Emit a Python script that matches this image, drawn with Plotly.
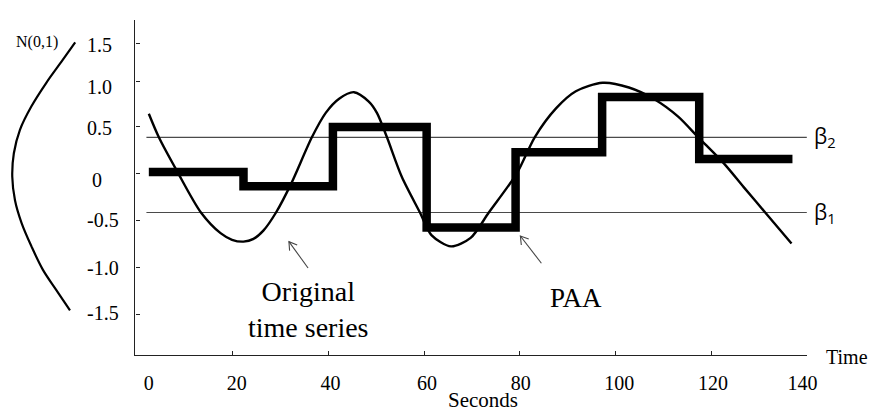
import math
import plotly.graph_objects as go

# ---------------- data ----------------
ts_time = [2.4, 4.5, 8.3, 13.3, 17.4, 19.8, 22.2, 24.3, 26.4, 29.0, 32.2, 36.5, 39.4, 42.2, 45.3,
           48.4, 50.1, 52.2, 55.3, 59.1, 61.5, 65.6, 69.7, 73.5, 79.4, 83.1, 87.6, 91.7, 97.3,
           102.8, 108.3, 113.1, 117.3, 122.7, 126.8, 131.3, 136.8]
ts_value = [0.64, 0.39, 0.03, -0.41, -0.63, -0.70, -0.72, -0.69, -0.60, -0.41, -0.10, 0.39, 0.65,
            0.80, 0.87, 0.77, 0.65, 0.39, -0.03, -0.41, -0.65, -0.77, -0.68, -0.41, 0.01, 0.39,
            0.70, 0.88, 0.97, 0.92, 0.79, 0.61, 0.39, 0.11, -0.14, -0.41, -0.74]

paa_edges = [2.4, 22.2, 40.9, 60.5, 79.1, 97.2, 117.5, 137.0]
paa_means = [0.02, -0.13, 0.50, -0.57, 0.23, 0.82, 0.16]

beta_values = [-0.41, 0.39]
beta_names = ["β<sub>1</sub>", "β<sub>2</sub>"]
beta_extent = [1.9, 140.8]

gauss_value = [1.40, 1.21, 0.97, 0.72, 0.47, 0.22, -0.03, -0.28, -0.52, -0.77, -1.02, -1.23, -1.45]
gauss_density = [0.117, 0.173, 0.245, 0.311, 0.362, 0.389, 0.396, 0.384, 0.355, 0.311, 0.260, 0.202, 0.140]

# pointer arrows: (head time, head value), (tail time, tail value)
arrow_heads = [(31.7, -0.72), (80.1, -0.66)]
arrow_tails = [(35.7, -1.00), (84.5, -0.95)]

x_tick_labels = ["0", "20", "40", "60", "80", "100", "120", "140"]
x_tick_marks = [20, 40, 60, 80, 100, 120, 140]
y_tick_labels = ["-1.5", "-1.0", "-0.5", "0", "0.5", "1.0", "1.5"]

# ---------------- layout constants ----------------
# the page body has an 8px margin, so the figure is drawn 8px smaller and
# all pixel positions (given in window pixels) are shifted by 8.
OFF = 8
W, H = 881 - OFF, 414 - OFF
SERIF = "Liberation Serif, Times New Roman, serif"
X_RANGE = [-0.41, 140.0]
Y_RANGE = [-1.926, 1.638]
PLOT_L, PLOT_R, PLOT_T, PLOT_B = 137, 817, 20, 355
x_label_pos = [2.4, 20.8, 40.4, 60.6, 80.2, 100.8, 120.4, 139.1]
y_mark_pos = [-1.5, -1.0, -0.5, 0.0, 0.5, 0.98, 1.383]
y_label_pos = [-1.479, -1.0, -0.489, -0.064, 0.489, 0.926, 1.372]

X_SCALE = (PLOT_R - PLOT_L) / (X_RANGE[1] - X_RANGE[0])
Y_SCALE = (PLOT_B - PLOT_T) / (Y_RANGE[1] - Y_RANGE[0])


def px(x):
    return (x - OFF) / W


def py(y):
    return 1 - (y - OFF) / H


fig = go.Figure()

# beta break-point lines
for b in beta_values:
    fig.add_trace(go.Scatter(x=beta_extent, y=[b, b], mode="lines",
                             line=dict(color="#4a4a4a", width=1.2),
                             hoverinfo="skip", showlegend=False))

# original time series
fig.add_trace(go.Scatter(x=ts_time, y=ts_value, mode="lines",
                         line=dict(color="black", width=2.4, shape="spline", smoothing=0.8),
                         hoverinfo="skip", showlegend=False))

# PAA step line
fig.add_trace(go.Scatter(x=paa_edges, y=paa_means + [paa_means[-1]], mode="lines",
                         line=dict(color="black", width=8.5, shape="hv"),
                         hoverinfo="skip", showlegend=False))

# N(0,1) curve at the left
fig.add_trace(go.Scatter(x=gauss_density, y=gauss_value, xaxis="x2", yaxis="y",
                         mode="lines",
                         line=dict(color="black", width=2.2, shape="spline", smoothing=1.0),
                         hoverinfo="skip", showlegend=False))

# pointer arrows with an open "V" head (wings computed in screen space)
WING, ANG = 9.0, math.radians(32)
for (hx, hy), (tx, ty) in zip(arrow_heads, arrow_tails):
    dx, dy = (tx - hx) * X_SCALE, (ty - hy) * Y_SCALE   # screen-space direction (y up)
    n = math.hypot(dx, dy)
    ux, uy = dx / n, dy / n
    xs, ys = [tx, hx, None], [ty, hy, None]
    for s in (1, -1):
        c, si = math.cos(s * ANG), math.sin(s * ANG)
        wx, wy = ux * c - uy * si, ux * si + uy * c
        xs += [hx + WING * wx / X_SCALE]
        ys += [hy + WING * wy / Y_SCALE]
        if s == 1:
            xs += [hx]
            ys += [hy]
    fig.add_trace(go.Scatter(x=xs, y=ys, mode="lines",
                             line=dict(color="#444444", width=1.1),
                             hoverinfo="skip", showlegend=False))

# helper traces so the label-only axes are drawn
fig.add_trace(go.Scatter(x=[None], y=[None], xaxis="x3", yaxis="y", showlegend=False,
                         hoverinfo="skip"))
fig.add_trace(go.Scatter(x=[None], y=[None], xaxis="x", yaxis="y2", showlegend=False,
                         hoverinfo="skip"))

AX_COL = "#222222"

fig.update_layout(
    width=W, height=H,
    margin=dict(l=0, r=0, t=0, b=0),
    paper_bgcolor="white", plot_bgcolor="white",
    showlegend=False,
    font=dict(family=SERIF, color="black", size=20),
    xaxis=dict(domain=[px(PLOT_L), px(PLOT_R)], range=X_RANGE, showgrid=False, zeroline=False,
               showline=True, linecolor=AX_COL, linewidth=1.3,
               ticks="inside", ticklen=4, tickcolor=AX_COL, tickwidth=1.2,
               tickvals=x_tick_marks, showticklabels=False, anchor="y"),
    xaxis3=dict(overlaying="x", anchor="y", side="bottom", range=X_RANGE,
                showgrid=False, zeroline=False, showline=False, ticks="",
                tickvals=x_label_pos, ticktext=x_tick_labels,
                tickfont=dict(family=SERIF, size=20, color="black"),
                ticklabelstandoff=14),
    xaxis2=dict(domain=[0, px(PLOT_L)], range=[0.45 - OFF / 228.3, -0.15], anchor="y",
                visible=False, showgrid=False, zeroline=False),
    yaxis=dict(domain=[py(PLOT_B), py(PLOT_T)], range=Y_RANGE, showgrid=False, zeroline=False,
               showline=True, linecolor=AX_COL, linewidth=1.3,
               ticks="inside", ticklen=4, tickcolor=AX_COL, tickwidth=1.2,
               tickvals=y_mark_pos, showticklabels=False, anchor="x"),
    yaxis2=dict(overlaying="y", anchor="free", side="right", position=px(87),
                range=Y_RANGE, showgrid=False, zeroline=False, showline=False, ticks="",
                tickvals=y_label_pos,
                ticktext=[("\u00a0" + t if t == "0" else t) for t in y_tick_labels],
                tickfont=dict(family=SERIF, size=20, color="black")),
)

annotations = [
    dict(text="N(0,1)", x=px(37), y=py(42), yanchor="middle", font=dict(family=SERIF, size=16)),
    dict(text="Time", x=px(858), y=py(357), yanchor="middle", font=dict(family=SERIF, size=20)),
    dict(text="Seconds", x=px(489), y=py(414), yanchor="bottom", font=dict(family=SERIF, size=21)),
    dict(text="Original<br>time series", x=px(312), y=py(309), yanchor="middle",
         font=dict(family=SERIF, size=28)),
    dict(text="PAA", x=px(583), y=py(298), yanchor="middle", font=dict(family=SERIF, size=27)),
]
for a in annotations:
    fig.add_annotation(xref="paper", yref="paper", showarrow=False, xanchor="center", **a)

for b, name in zip(beta_values, beta_names):
    fig.add_annotation(xref="paper", yref="y", x=px(822), y=b, text=name,
                       showarrow=False, xanchor="left", yanchor="middle",
                       font=dict(family="Open Sans, Noto Sans, sans-serif", size=21,
                                 color="black"))

fig.write_html("out.html", config={"displayModeBar": False})
